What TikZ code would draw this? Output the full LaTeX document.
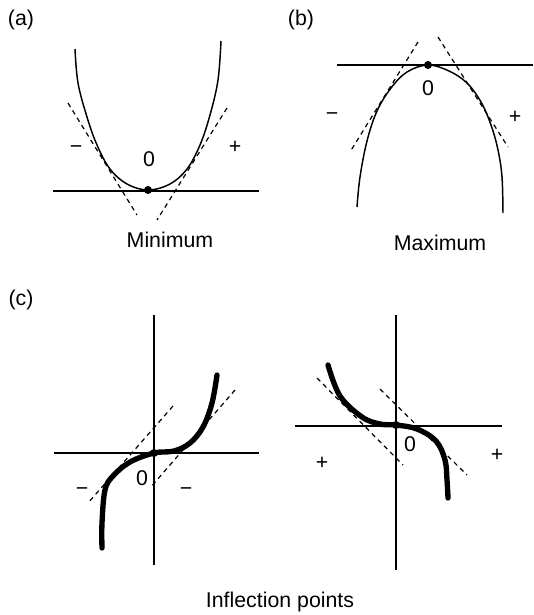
\documentclass[tikz,border=0pt]{standalone}
\usepackage{fontspec}
\setmainfont{Liberation Sans}
\begin{document}
\begin{tikzpicture}[x=0.75pt,y=-0.75pt,
  thinline/.style={line width=1.1pt},
  thickcurve/.style={line width=4pt,line cap=round},
  tangent/.style={line width=0.9pt,dash pattern=on 3.5pt off 3pt},
  lbl/.style={font=\fontsize{16}{19}\selectfont,inner sep=0pt},
  sign/.style={font=\fontsize{16}{19}\selectfont,inner sep=0pt}]
\useasboundingbox (0,0) rectangle (533,615);

% ---------- (a) Minimum ----------
\node[lbl] (la) at (21,20) {(a)};
\draw[thinline] (53,191) -- (259,191);
\draw[thinline] plot[smooth,tension=0.6] coordinates {(75,49) (78,83) (87,117) (97,145) (110,169) (127,184) (148,190) (170,184) (187,169) (200,145) (210,115) (218,80) (221,41)};
\draw[tangent] (68,103) -- (137,215);
\draw[tangent] (227,108) -- (157,220);
\fill (148,190) circle (4);
\node[sign] (am) at (76,150) {−};
\node[sign] (ap) at (235,147) {+};
\node[sign] (a0) at (149,159) {0};
\node[lbl] (amin) at (170,240) {Minimum};

% ---------- (b) Maximum ----------
\node[lbl] (lb) at (301,20) {(b)};
\draw[thinline] (337,65) -- (533,65);
\draw[thinline] plot[smooth,tension=0.6] coordinates {(357,207) (360,177) (367,141) (377,111) (391,88) (407,72) (428,65) (449,71) (467,83) (481,102) (491,125) (498,150) (502,177) (503,213)};
\draw[tangent] (418,42) -- (350,152);
\draw[tangent] (438,37) -- (508,147);
\fill (428,65) circle (4);
\node[sign] (bm) at (332,117) {−};
\node[sign] (bp) at (515,117) {+};
\node[sign] (b0) at (428,88) {0};
\node[lbl] (bmax) at (440,243) {Maximum};

% ---------- (c) Inflection points ----------
\node[lbl] (lc) at (21,300) {(c)};
% left
\draw[thinline] (154,315) -- (154,565);
\draw[thinline] (54,453) -- (259,453);
\draw[tangent] (173,406) -- (88,503);
\draw[tangent] (235,390) -- (150,488);
\draw[thickcurve] plot[smooth,tension=0.6] coordinates {(102,548) (102,523) (105,490) (113,476) (130,462) (154,453) (174,451) (190,443) (203,427) (212,403) (217,375)};
\fill (154,453) circle (4);
\node[sign] (c0) at (142,478) {0};
\node[sign] (cm1) at (82,492) {−};
\node[sign] (cm2) at (186,492) {−};
% right
\draw[thinline] (396,315) -- (396,570);
\draw[thinline] (295,426) -- (502,426);
\draw[tangent] (317,378) -- (403,465);
\draw[tangent] (380,389) -- (467,475);
\draw[thickcurve] plot[smooth,tension=0.6] coordinates {(328,365) (340,396) (362,417) (380,424) (396,425) (417,429) (436,441) (445,460) (447,480) (448,498)};
\fill (396,425) circle (4);
\node[sign] (d0) at (410,444) {0};
\node[sign] (dp1) at (322,463) {+};
\node[sign] (dp2) at (497,455) {+};
\node[lbl] (cinf) at (280,602) {Inflection points};
\end{tikzpicture}
\end{document}
